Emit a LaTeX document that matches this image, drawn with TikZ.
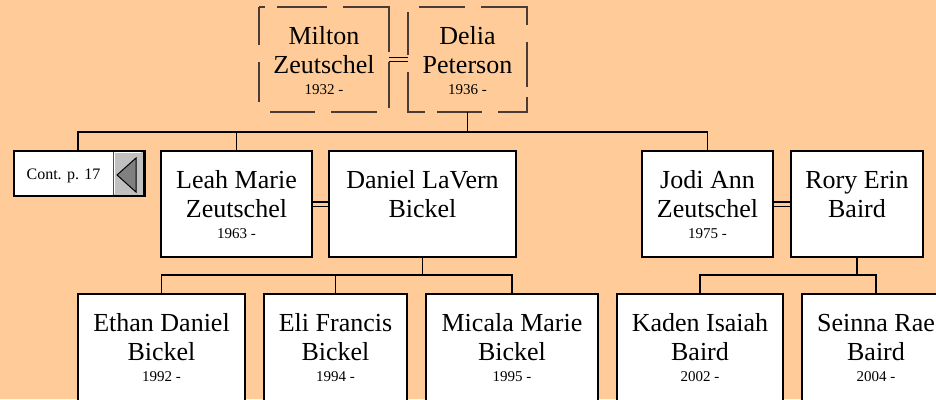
\documentclass[tikz,border=0pt]{standalone}
\usepackage{fontspec}
\setmainfont{Liberation Serif}
\usetikzlibrary{calc}
\definecolor{peach}{HTML}{FFCC99}
\definecolor{contgray}{HTML}{C0C0C0}
\definecolor{trigray}{HTML}{808080}
\definecolor{dashcol}{HTML}{4A3C32}
\begin{document}
\begin{tikzpicture}[x=1pt,y=-1pt,
  person/.style={draw, fill=white, line width=1.6pt, inner sep=0, minimum height=106pt},
  kid/.style={draw, fill=white, line width=1.6pt, inner sep=0, minimum height=120pt},
  spouse/.style={inner sep=0, minimum height=105pt},
  dashseg/.style={draw=dashcol, line width=1.2pt},
  link/.style={line width=1.6pt},
  wed/.style={double=peach, double distance=3pt, line width=1.2pt},
  nm/.style={font=\fontsize{26}{29}\selectfont, inner sep=0, anchor=base},
  yr/.style={font=\fontsize{15}{18}\selectfont, inner sep=0, anchor=base}]
\useasboundingbox (0,0) rectangle (936,399);
\fill[peach] (0,0) rectangle (936,399);
\clip (0,0) rectangle (936,399);
\coordinate (busA) at (0,132);
\coordinate (busB) at (0,275);
\coordinate (busC) at (0,275);
% generation 1
\node[spouse, minimum width=130pt] (milton) at (324,59.5) {};
\node[spouse, minimum width=119pt] (delia) at (467.5,59.5) {};
% dashed outlines (Milton)
\draw[dashseg] (259,7) -- (265,7) (277,7) -- (327,7) (343,7) -- (389,7) -- (389,52)
  (389,62) -- (389,108) (270,112) -- (315,112) (331,112) -- (377,112)
  (259,7) -- (259,45) (259,62) -- (259,102);
% dashed outlines (Delia)
\draw[dashseg] (419,7) -- (465,7) (481,7) -- (527,7) -- (527,25) (527,42) -- (527,87)
  (527,97) -- (527,112) -- (498,112) (482,112) -- (437,112) (425,112) -- (408,112) -- (408,72)
  (408,55) -- (408,12);
\node[nm] (milton1) at ($(milton.north)+(0,38)$) {Milton};
\node[nm] (milton2) at ($(milton.north)+(0,67)$) {Zeutschel};
\node[yr] (milton3) at ($(milton.north)+(0,88)$) {1932 -};
\node[nm] (delia1) at ($(delia.north)+(0,38)$) {Delia};
\node[nm] (delia2) at ($(delia.north)+(0,67)$) {Peterson};
\node[yr] (delia3) at ($(delia.north)+(0,88)$) {1936 -};
% generation 2
\node[draw, fill=white, line width=1.6pt, inner sep=0, minimum width=128pt, minimum height=45pt] (cont) at (78,173.5) {};
\fill[contgray] (113,151) rectangle (143,196);
\draw[white, line width=1pt] (114.5,194) -- (114.5,152.5) -- (141,152.5);
\draw[black!70, line width=1pt] (113,151) -- (113,196);
\draw[line width=1.6pt] (14,151) -- (144,151) (14,151) -- (14,196) -- (144,196);
\draw[line width=3pt] (144.5,149.7) -- (144.5,197.3);
\node[coordinate] (tritip) at (117,175) {};
\filldraw[fill=trigray, draw=black, line width=1pt] (tritip) -- (136,158) -- (136,192) -- cycle;
\node[font=\fontsize{16}{18}\selectfont, inner sep=0, anchor=base] (conttext) at (63.5,179) {Cont. p. 17};
\node[person, minimum width=151pt] (leah) at (236.5,204) {};
\node[person, minimum width=187pt] (daniel) at (422.5,204) {};
\node[person, minimum width=131pt] (jodi) at (707.5,204) {};
\node[person, minimum width=132pt] (rory) at (857,204) {};
\node[nm] (leah1) at ($(leah.north)+(0,38)$) {Leah Marie};
\node[nm] (leah2) at ($(leah.north)+(0,67)$) {Zeutschel};
\node[yr] (leah3) at ($(leah.north)+(0,88)$) {1963 -};
\node[nm] (daniel1) at ($(daniel.north)+(0,38)$) {Daniel LaVern};
\node[nm] (daniel2) at ($(daniel.north)+(0,67)$) {Bickel};
\node[nm] (jodi1) at ($(jodi.north)+(0,38)$) {Jodi Ann};
\node[nm] (jodi2) at ($(jodi.north)+(0,67)$) {Zeutschel};
\node[yr] (jodi3) at ($(jodi.north)+(0,88)$) {1975 -};
\node[nm] (rory1) at ($(rory.north)+(0,38)$) {Rory Erin};
\node[nm] (rory2) at ($(rory.north)+(0,67)$) {Baird};
% generation 3
\node[kid, minimum width=167pt] (ethan) at (161.5,354) {};
\node[kid, minimum width=143pt] (eli) at (335.5,354) {};
\node[kid, minimum width=172pt] (micala) at (512,354) {};
\node[kid, minimum width=166pt] (kaden) at (700,354) {};
\node[kid, minimum width=148pt] (seinna) at (876,354) {};
\node[nm] (ethan1) at ($(ethan.north)+(0,38)$) {Ethan Daniel};
\node[nm] (ethan2) at ($(ethan.north)+(0,67)$) {Bickel};
\node[yr] (ethan3) at ($(ethan.north)+(0,88)$) {1992 -};
\node[nm] (eli1) at ($(eli.north)+(0,38)$) {Eli Francis};
\node[nm] (eli2) at ($(eli.north)+(0,67)$) {Bickel};
\node[yr] (eli3) at ($(eli.north)+(0,88)$) {1994 -};
\node[nm] (micala1) at ($(micala.north)+(0,38)$) {Micala Marie};
\node[nm] (micala2) at ($(micala.north)+(0,67)$) {Bickel};
\node[yr] (micala3) at ($(micala.north)+(0,88)$) {1995 -};
\node[nm] (kaden1) at ($(kaden.north)+(0,38)$) {Kaden Isaiah};
\node[nm] (kaden2) at ($(kaden.north)+(0,67)$) {Baird};
\node[yr] (kaden3) at ($(kaden.north)+(0,88)$) {2002 -};
\node[nm] (seinna1) at ($(seinna.north)+(0,38)$) {Seinna Rae};
\node[nm] (seinna2) at ($(seinna.north)+(0,67)$) {Baird};
\node[yr] (seinna3) at ($(seinna.north)+(0,88)$) {2004 -};
% connectors
\draw[wed] (milton.east) -- (delia.west);
\draw[wed] (leah.east) -- (daniel.west);
\draw[wed] (jodi.east) -- (rory.west);
\draw[link] (cont.north) |- (busA -| jodi.north) -- (jodi.north);
\draw[link] (delia.south) -- (delia.south |- busA);
\draw[link] (leah.north) -- (leah.north |- busA);
\draw[link] (ethan.north) |- (busB -| micala.north) -- (micala.north);
\draw[link] (daniel.south) -- (daniel.south |- busB);
\draw[link] (eli.north) -- (eli.north |- busB);
\draw[link] (kaden.north) |- (busC -| seinna.north) -- (seinna.north);
\draw[link] (rory.south) -- (rory.south |- busC);
\end{tikzpicture}
\end{document}
